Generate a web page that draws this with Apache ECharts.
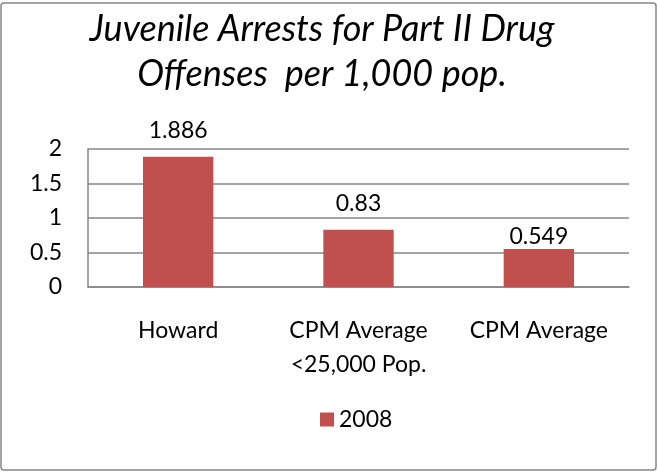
<!DOCTYPE html>
<html>
<head>
<meta charset="utf-8">
<script src="https://cdn.jsdelivr.net/npm/echarts@6/dist/echarts.min.js"></script>
<style>
  html, body { margin: 0; padding: 0; background: #fff; }
  #main { width: 658px; height: 472px; }
</style>
</head>
<body>
<div id="main"></div>
<script>
// data
const categories = ['Howard', 'CPM Average\n<25,000 Pop.', 'CPM Average']
const values2008 = [1.886, 0.83, 0.549]
const yTicks = [0, 0.5, 1, 1.5, 2]
const seriesName = '2008'

// label gap above each bar (Excel placed the last one closer)
const labelGaps = [15, 15, 1]

const chart = echarts.init(document.getElementById('main'))
const font = 'Lato, "Open Sans", sans-serif'
const option = {
  backgroundColor: '#fff',
  animation: false,
  title: {
    text: 'Juvenile Arrests for Part II Drug\nOffenses  per 1,000 pop.',
    left: 317,
    top: 2,
    textAlign: 'center',
    textStyle: {
      fontFamily: font,
      fontStyle: 'italic',
      fontWeight: 'normal',
      fontSize: 36,
      lineHeight: 45,
      color: '#000',
    },
  },
  graphic: [
    {
      type: 'rect',
      shape: { x: 1, y: 3, width: 655, height: 467, r: 3 },
      style: { fill: 'none', stroke: '#868686', lineWidth: 1.5 },
      silent: true,
    },
  ],
  legend: {
    data: [seriesName],
    left: 315,
    top: 403,
    itemWidth: 14,
    itemHeight: 14,
    itemGap: 6,
    icon: 'rect',
    textStyle: { fontFamily: font, fontSize: 23, color: '#000' },
  },
  grid: { left: 88, right: 29, top: 149, bottom: 185, containLabel: false },
  xAxis: {
    type: 'category',
    data: categories,
    axisLine: { lineStyle: { color: '#868686', width: 1.5 } },
    axisTick: { show: false },
    axisLabel: {
      fontFamily: font,
      fontSize: 23,
      lineHeight: 34,
      color: '#000',
      margin: 27,
      interval: 0,
    },
  },
  yAxis: {
    type: 'value',
    min: yTicks[0],
    max: yTicks[yTicks.length - 1],
    interval: 0.5,
    axisLine: { show: true, lineStyle: { color: '#868686', width: 1.5 } },
    axisTick: { show: false },
    splitLine: { lineStyle: { color: '#868686', width: 1.5 } },
    axisLabel: {
      fontFamily: font,
      fontSize: 23,
      color: '#000',
      margin: 26,
    },
  },
  series: [
    {
      name: seriesName,
      type: 'bar',
      data: values2008.map((v, i) => ({ value: v, label: { distance: labelGaps[i] } })),
      barWidth: '39%',
      itemStyle: { color: '#C0504D' },
      label: {
        show: true,
        position: 'top',
        fontFamily: font,
        fontSize: 23,
        color: '#000',
      },
    },
  ],
}
option && chart.setOption(option)
</script>
</body>
</html>
